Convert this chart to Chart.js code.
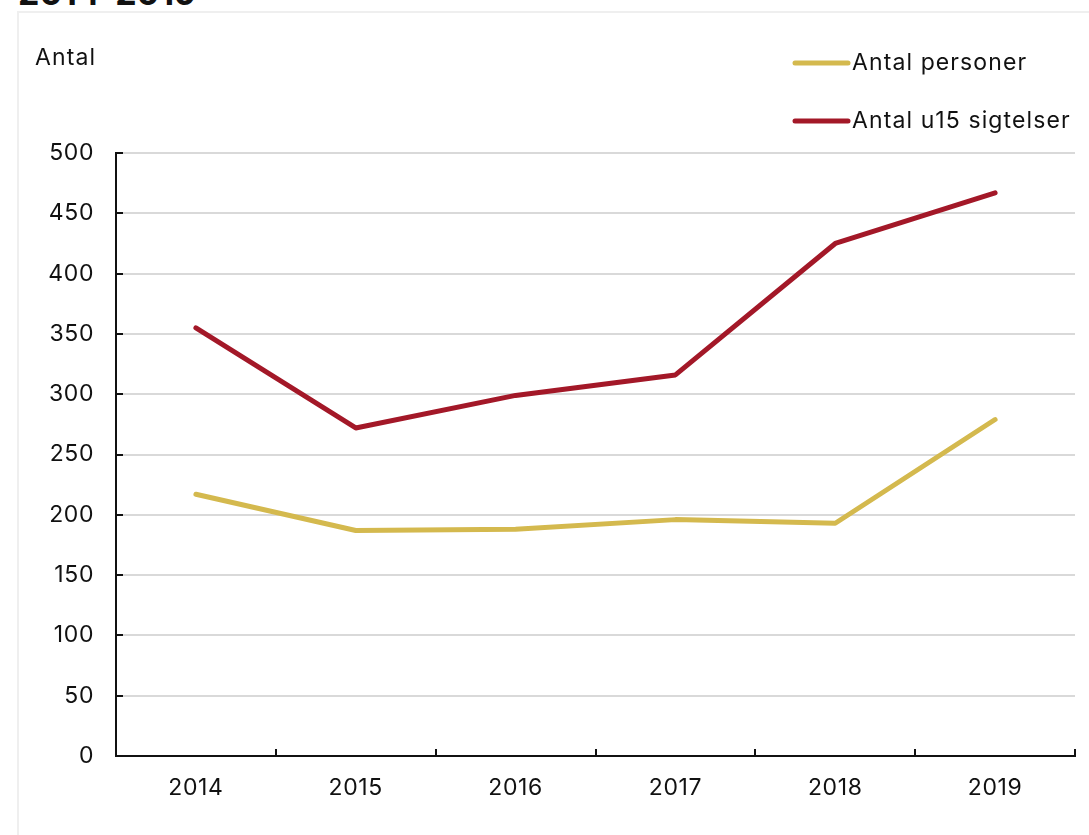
<!DOCTYPE html>
<html lang="da">

<head>
    <meta charset="UTF-8">
    <title>Antal personer og u15 sigtelser 2014-2019</title>
    <script src="https://cdn.jsdelivr.net/npm/chart.js"></script>
    <style>
        body {
            margin: 0;
            background: #fff;
            font-family: Inter, "Open Sans", sans-serif;
            overflow: hidden;
        }

        .titel {
            position: absolute;
            left: 18px;
            top: -24px;
            font-size: 34px;
            line-height: 34px;
            font-weight: 700;
            color: #111;
        }

        .ramme {
            position: absolute;
            left: 17px;
            top: 11px;
            width: 1100px;
            height: 840px;
            border: 2px solid #efefef;
        }

        .box-grafico {
            position: absolute;
            left: 18px;
            top: 12px;
            width: 1071px;
            height: 823px;
        }
    </style>
</head>

<body>
    <div class="titel">2014-2019</div>
    <div class="ramme"></div>

    <div class="box-grafico">
        <canvas id="grafico-sigtelser"></canvas>
    </div>

    <script>
        // data
        var aar = ['2014', '2015', '2016', '2017', '2018', '2019'];
        var antalPersoner = [217, 187, 188, 196, 193, 279];
        var antalSigtelser = [355, 272, 299, 316, 425, 467];
        var yTicks = [0, 50, 100, 150, 200, 250, 300, 350, 400, 450, 500];

        var gul = 'rgb(212, 185, 78)';
        var roed = 'rgb(163, 24, 40)';
        var fontNavn = 'Inter, "Open Sans", sans-serif';

        // "Antal" over y-aksen, legende og små indadvendte tick-streger
        const ekstraTegning = {
            id: 'ekstraTegning',
            beforeDraw(chart) {
                // referencens skrift er lidt bredere end Inter
                chart.ctx.letterSpacing = '0.6px';
            },
            afterDraw(chart) {
                const ctx = chart.ctx;
                const xs = chart.scales.x;
                const ys = chart.scales.y;
                ctx.save();

                // tick-streger
                ctx.strokeStyle = '#111';
                ctx.lineWidth = 2;
                ctx.beginPath();
                ys.ticks.forEach(function (t) {
                    var y = Math.round(ys.getPixelForValue(t.value));
                    ctx.moveTo(ys.right, y);
                    ctx.lineTo(ys.right + 7, y);
                });
                for (var i = 0; i <= aar.length; i++) {
                    var x = Math.round(xs.getPixelForValue(i - 0.5));
                    ctx.moveTo(x, xs.top);
                    ctx.lineTo(x, xs.top - 7);
                }
                ctx.stroke();

                // akse-titel
                ctx.letterSpacing = '1.1px';
                ctx.fillStyle = '#111';
                ctx.font = '23px ' + fontNavn;
                ctx.textAlign = 'left';
                ctx.textBaseline = 'middle';
                ctx.fillText('Antal', 17, 46);

                // legende
                var rækker = [51, 109];
                chart.data.datasets.forEach(function (ds, idx) {
                    var y = rækker[idx];
                    ctx.strokeStyle = ds.borderColor;
                    ctx.lineWidth = 5;
                    ctx.lineCap = 'round';
                    ctx.beginPath();
                    ctx.moveTo(777, y);
                    ctx.lineTo(830, y);
                    ctx.stroke();
                    ctx.fillStyle = '#111';
                    ctx.fillText(ds.label, 834, y);
                });

                ctx.restore();
            }
        };

        const config = {
            type: 'line',
            data: {
                labels: aar,
                datasets: [{
                    label: 'Antal personer',
                    data: antalPersoner,
                    borderColor: gul,
                    backgroundColor: gul,
                    borderWidth: 5,
                    pointRadius: 0,
                    tension: 0,
                    borderCapStyle: 'round',
                    borderJoinStyle: 'round'
                }, {
                    label: 'Antal u15 sigtelser',
                    data: antalSigtelser,
                    borderColor: roed,
                    backgroundColor: roed,
                    borderWidth: 5,
                    pointRadius: 0,
                    tension: 0,
                    borderCapStyle: 'round',
                    borderJoinStyle: 'round'
                }]
            },
            options: {
                responsive: true,
                maintainAspectRatio: false,
                animation: false,
                layout: {
                    padding: { top: 141, right: 14, left: 0, bottom: 0 }
                },
                plugins: {
                    legend: { display: false },
                    tooltip: { enabled: false }
                },
                scales: {
                    x: {
                        offset: true,
                        grid: { display: false, drawTicks: false },
                        border: { display: true, color: '#111', width: 2 },
                        ticks: {
                            color: '#111',
                            font: { family: fontNavn, size: 23 },
                            padding: 18,
                            maxRotation: 0
                        },
                        afterFit: function (scale) { scale.height = 79; }
                    },
                    y: {
                        min: 0,
                        max: 500,
                        afterBuildTicks: function (scale) {
                            scale.ticks = yTicks.map(function (v) { return { value: v }; });
                        },
                        grid: { color: '#d9d9d9', lineWidth: 2, drawTicks: false },
                        border: { display: true, color: '#111', width: 2 },
                        ticks: {
                            color: '#111',
                            font: { family: fontNavn, size: 23 },
                            padding: 22
                        },
                        afterFit: function (scale) { scale.width = 98; }
                    }
                }
            },
            plugins: [ekstraTegning]
        };

        let myChart = new Chart(
            document.getElementById('grafico-sigtelser'),
            config
        );
    </script>
</body>

</html>
